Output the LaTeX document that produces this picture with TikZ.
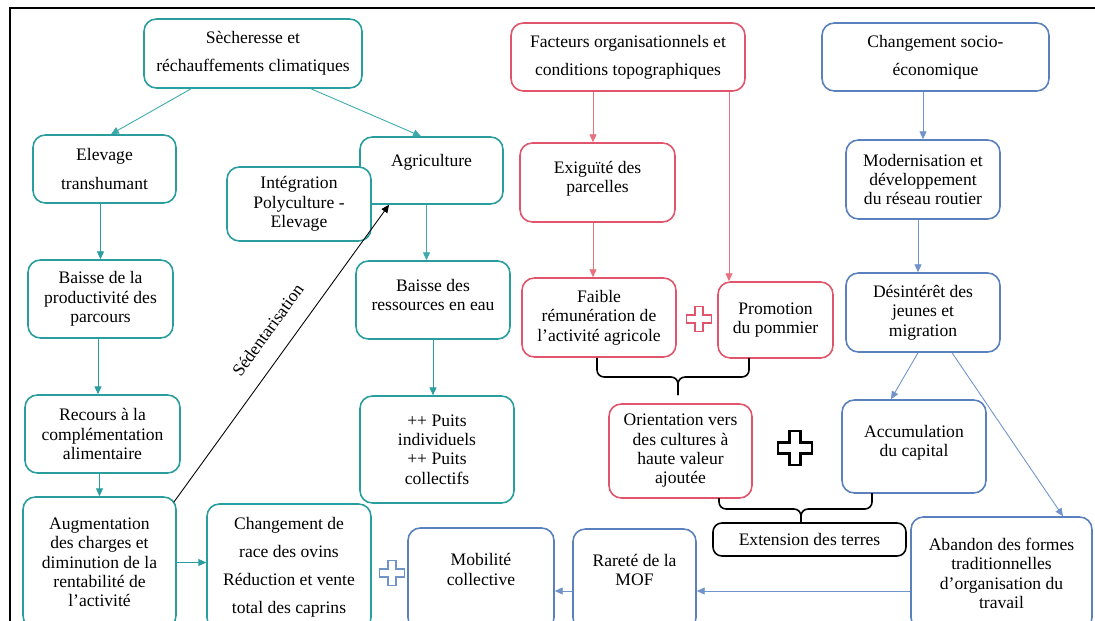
\documentclass[tikz,border=0pt]{standalone}
\usepackage{fontspec}
\setmainfont{Liberation Serif}
\usetikzlibrary{arrows.meta,calc}
\definecolor{tealc}{HTML}{2A9D9F}
\definecolor{teall}{HTML}{3CA9AA}
\definecolor{redc}{HTML}{E0556C}
\definecolor{redl}{HTML}{E8707F}
\definecolor{bluec}{HTML}{5A80BE}
\definecolor{bluel}{HTML}{7094CA}
\tikzset{
  box/.style={draw, rounded corners=7pt, line width=0.9pt, fill=white, align=center, inner sep=2pt},
  tealbox/.style={box, draw=tealc},
  redbox/.style={box, draw=redc},
  bluebox/.style={box, draw=bluec},
  blackbox/.style={box, draw=black, rounded corners=5pt},
  link/.style={-{Triangle[length=4.5pt,width=4pt]}, line width=0.5pt},
  brace/.style={line width=0.9pt, rounded corners=4pt},
  plussign/.pic={\path[pic actions] (-0.33,-1) -- (0.33,-1) -- (0.33,-0.33) -- (1,-0.33) -- (1,0.33) -- (0.33,0.33) -- (0.33,1) -- (-0.33,1) -- (-0.33,0.33) -- (-1,0.33) -- (-1,-0.33) -- (-0.33,-0.33) -- cycle;}
}
\begin{document}
\begin{tikzpicture}[x=0.02cm, y=-0.02cm, font=\fontsize{10}{11}\selectfont]
\useasboundingbox (0,0) rectangle (1095,621);
\clip (0,0) rectangle (1095,621);
\draw[line width=1.4pt] (10,640) -- (10,8) -- (1100,8);

\node[tealbox, minimum width=4.36cm, minimum height=1.38cm] (sech) at (253,53.5) {Sècheresse et\\[5pt]réchauffements climatiques};
\node[redbox, minimum width=4.68cm, minimum height=1.36cm] (fact) at (628,57) {Facteurs organisationnels et\\[5pt]conditions topographiques};
\node[bluebox, minimum width=4.54cm, minimum height=1.36cm] (chang) at (935.5,57) {Changement socio-\\[5pt]économique};

\node[tealbox, minimum width=2.86cm, minimum height=1.36cm] (elev) at (104.5,169) {Elevage\\[5pt]transhumant};
\node[tealbox, minimum width=2.86cm, minimum height=1.34cm] (agri) at (431.5,170.5) {Agriculture\\\mbox{}};
\node[tealbox, minimum width=2.88cm, minimum height=1.48cm] (integ) at (299,204) {Intégration\\Polyculture -\\Elevage};
\node[redbox, minimum width=3.1cm, minimum height=1.58cm] (exig) at (597.5,182.5) {Exiguïté des\\parcelles\\[-5pt]\mbox{}};
\node[bluebox, minimum width=3.08cm, minimum height=1.58cm] (modern) at (923,179.5) {Modernisation et\\développement\\du réseau routier};

\node[tealbox, minimum width=2.9cm, minimum height=1.56cm] (bprod) at (100.5,299) {Baisse de la\\productivité des\\parcours};
\node[tealbox, minimum width=3.08cm, minimum height=1.56cm] (beau) at (433,300) {Baisse des\\ressources en eau\\[-5pt]\mbox{}};
\node[redbox, minimum width=3.08cm, minimum height=1.58cm] (faible) at (599,317.5) {Faible\\rémunération de\\l’activité agricole};
\node[redbox, minimum width=2.3cm, minimum height=1.52cm] (promo) at (775.5,320) {Promotion\\du pommier};
\node[bluebox, minimum width=3.08cm, minimum height=1.58cm] (desint) at (923,312.5) {Désintérêt des\\jeunes et\\migration};

\node[tealbox, minimum width=3.1cm, minimum height=1.56cm] (recours) at (102.5,434) {Recours à la\\complémentation\\alimentaire};
\node[tealbox, minimum width=3.08cm, minimum height=2.14cm] (puits) at (437,449.5) {{+}{+} Puits\\individuels\\{+}{+} Puits\\collectifs};
\node[redbox, minimum width=2.86cm, minimum height=1.88cm] (orient) at (680.5,451) {Orientation vers\\des cultures à\\haute valeur\\ajoutée};
\node[bluebox, minimum width=2.88cm, minimum height=1.86cm] (accum) at (914,446.5) {Accumulation\\du capital\\[-5pt]\mbox{}};

\node[tealbox, minimum width=3.06cm, minimum height=2.62cm] (augm) at (99.5,562.5) {Augmentation\\des charges et\\diminution de la\\rentabilité de\\l’activité};
\node[tealbox, minimum width=3.28cm, minimum height=2.52cm] (race) at (289,567) {Changement de\\[5pt]race des ovins\\[5pt]Réduction et vente\\[5pt]total des caprins};
\node[bluebox, minimum width=2.92cm, minimum height=2.04cm] (mobil) at (481,579) {Mobilité\\collective\\\mbox{}};
\node[bluebox, minimum width=2.46cm, minimum height=2.02cm] (rarete) at (634.5,579.5) {Rareté de la\\MOF\\\mbox{}};
\node[blackbox, minimum width=3.86cm, minimum height=0.66cm] (ext) at (809.5,539.5) {Extension des terres};
\node[bluebox, minimum width=3.62cm, minimum height=2.26cm] (aband) at (1001.5,573.5) {Abandon des formes\\traditionnelles\\d’organisation du\\travail};

\draw[link, teall] ([xshift=-1.24cm]sech.south) -- ([xshift=0.13cm]elev.north);
\draw[link, teall] ([xshift=1.16cm]sech.south) -- ([xshift=-0.21cm]agri.north);
\draw[link, tealc] (bprod.north |- elev.south) -- (bprod.north);
\draw[link, tealc] ([xshift=-0.05cm]bprod.south) -- ([xshift=-0.05cm]bprod.south |- recours.north);
\draw[link, tealc] (augm.north |- recours.south) -- (augm.north);
\draw[link, teall] ([xshift=-0.1cm]agri.south) -- ([xshift=-0.1cm]agri.south |- beau.north);
\draw[link, tealc] (beau.south) -- (beau.south |- puits.north);
\draw[link, tealc] (augm.east) -- (augm.east -| race.west);
\draw[link, black] ([shift={(-0.06cm,-0.12cm)}]augm.north east) -- node[sloped, above=7pt, pos=0.53] {Sédentarisation} ([xshift=-0.85cm]agri.south);

\draw[link, redl] ([xshift=-0.7cm]fact.south) -- ([xshift=-0.7cm]fact.south |- exig.north);
\draw[link, redl] ([xshift=2.02cm]fact.south) -- ([xshift=2.02cm]fact.south |- promo.north);
\draw[link, redl] ([xshift=-0.09cm]exig.south) -- ([xshift=-0.09cm]exig.south |- faible.north);

\draw[link, bluel] (modern.north |- chang.south) -- (modern.north);
\draw[link, bluel] ([xshift=-0.1cm]modern.south) -- ([xshift=-0.1cm]modern.south |- desint.north);
\draw[link, bluel] ([xshift=-0.1cm]desint.south) -- ([xshift=-0.46cm]accum.north);
\draw[link, bluel] ([xshift=0.58cm]desint.south) -- ([xshift=1.23cm]aband.north);
\draw[link, bluel] ([yshift=-0.35cm]aband.west) -- ([yshift=-0.35cm]aband.west -| rarete.east);
\draw[link, bluel] ([yshift=-0.23cm]rarete.west) -- ([yshift=-0.23cm]rarete.west -| mobil.east);

\draw[brace] (597,358) -- (597,377) -- (678,377) -- (678,395);
\draw[brace] (749,358) -- (749,377) -- (678,377) -- (678,395);
\draw[brace] (719,498) -- (719,509) -- (801,509) -- (801,523);
\draw[brace] (872,493) -- (872,509) -- (801,509) -- (801,523);

\pic[draw=redc, line width=0.9pt, scale=12.5] at (699,319) {plussign};
\pic[draw=black, line width=1.3pt, scale=17] at (795,448) {plussign};
\pic[draw=bluel, line width=0.9pt, scale=12.5] at (392,573) {plussign};
\end{tikzpicture}
\end{document}
